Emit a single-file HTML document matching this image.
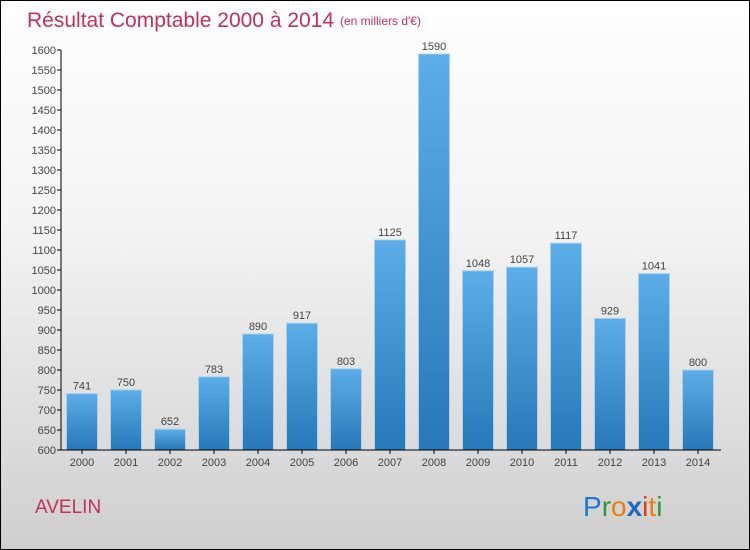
<!DOCTYPE html>
<html><head><meta charset="utf-8"><style>
body{margin:0;width:750px;height:550px;overflow:hidden}
#c{position:absolute;left:0;top:0;width:748px;height:548px;border:1px solid #000;background:linear-gradient(#fefefe,#f4f4f4 40%,#cfcfcf)}
text{font-family:"Liberation Sans",sans-serif}
</style></head><body>
<div id="c">
<svg id="s" width="750" height="550" style="position:absolute;left:-1px;top:-1px">
<defs><linearGradient id="g" x1="0" y1="0" x2="0" y2="1"><stop offset="0" stop-color="#5dade8"/><stop offset="1" stop-color="#2878b8"/></linearGradient></defs>
<text x="27" y="27" font-size="21" fill="#c2305e">Résultat Comptable 2000 à 2014</text>
<text x="340" y="25" font-size="12" fill="#c2305e">(en milliers d'€)</text>
<text x="35" y="513" font-size="19" fill="#c2305e">AVELIN</text>
<g font-size="28">
<text x="583" y="516"><tspan fill="#1a7ad0">P</tspan><tspan fill="#2a9a3a">r</tspan><tspan fill="#f07c10">o</tspan><tspan fill="#1a6ac0" font-weight="bold">x</tspan><tspan fill="#e03a1a">i</tspan><tspan fill="#f07c10">t</tspan><tspan fill="#2a9a3a">i</tspan></text>
</g>
</svg></div>
<script>
const years=["2000","2001","2002","2003","2004","2005","2006","2007","2008","2009","2010","2011","2012","2013","2014"];
const values=[741,750,652,783,890,917,803,1125,1590,1048,1057,1117,929,1041,800];
const ticks=[600,650,700,750,800,850,900,950,1000,1050,1100,1150,1200,1250,1300,1350,1400,1450,1500,1550,1600];
const s=document.getElementById('s'),NS='http://www.w3.org/2000/svg';
const y=v=>450-(v-600)*0.4, x=i=>82+i*44;
function mk(t,a,p){const e=document.createElementNS(NS,t);for(const k in a)e.setAttribute(k,a[k]);(p||s).appendChild(e);return e;}
ticks.forEach(t=>{
const l=mk('line',{x1:57,x2:61,y1:y(t),y2:y(t),stroke:'#000'});


const tx=mk('text',{x:56,y:y(t)+4,'font-size':11,'text-anchor':'end',fill:'#444'});tx.textContent=t;


});
values.forEach((v,i)=>{
const r=mk('rect',{x:x(i)-15.5,y:y(v),width:31,height:450-y(v),fill:'url(#g)',stroke:'#a8d0f0','stroke-width':1});


const t=mk('text',{x:x(i),y:y(v)-4,'font-size':11,'text-anchor':'middle',fill:'#444'});t.textContent=v;


const k=mk('line',{x1:x(i),x2:x(i),y1:450,y2:454,stroke:'#000'});


const xl=mk('text',{x:x(i),y:466,'font-size':11,'text-anchor':'middle',fill:'#444'});xl.textContent=years[i];


});
const ya=mk('line',{x1:61,x2:61,y1:50,y2:450,stroke:'#000'});


const xa=mk('line',{x1:61,x2:721,y1:450,y2:450,stroke:'#000'});


</script>
</body></html>
